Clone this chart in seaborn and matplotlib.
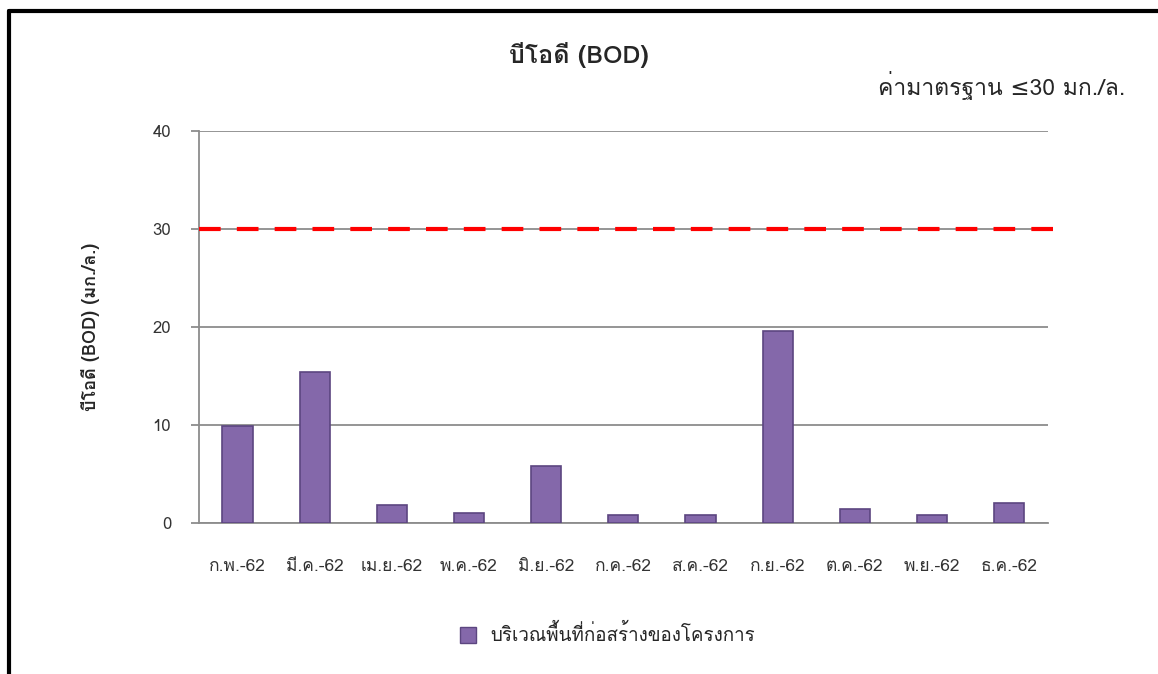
import matplotlib
matplotlib.use('Agg')
import matplotlib.pyplot as plt
from matplotlib import font_manager
from matplotlib.ft2font import FT2Font
from matplotlib.lines import Line2D
import seaborn as sns
import pandas as pd

# data
months = ['ก.พ.-62', 'มี.ค.-62', 'เม.ย.-62', 'พ.ค.-62', 'มิ.ย.-62', 'ก.ค.-62',
          'ส.ค.-62', 'ก.ย.-62', 'ต.ค.-62', 'พ.ย.-62', 'ธ.ค.-62']
bod = [9.9, 15.4, 1.8, 1.0, 5.8, 0.8, 0.8, 19.6, 1.4, 0.8, 2.0]
standard = 30
yticks = [0, 10, 20, 30, 40]
series_name = 'บริเวณพื้นที่ก่อสร้างของโครงการ'
title = 'บีโอดี (BOD)'
ylabel = 'บีโอดี (BOD) (มก./ล.)'
std_text = 'ค่ามาตรฐาน ≤30 มก./ล.'


def find_thai_font():
    """
    Look for an installed font which has Thai glyphs
    """
    for f in font_manager.fontManager.ttflist:
        try:
            cmap = FT2Font(f.fname).get_charmap()
        except Exception:
            continue
        if 0x0E01 in cmap and 0x0E35 in cmap:
            return f.name
    return None


sns.set_theme(style='white')
thai = find_thai_font()
fams = [thai, 'DejaVu Sans'] if thai else ['DejaVu Sans']
plt.rcParams['font.family'] = fams

df = pd.DataFrame({'month': months, 'bod': bod})

fig = plt.figure(figsize=(11.58, 6.74), dpi=100)
ax = fig.add_axes([0.1718, 0.224, 0.733, 0.5816])

sns.barplot(data=df, x='month', y='bod', color='#8468aa', width=0.39,
            saturation=1, edgecolor='#5c4680', linewidth=1.2, ax=ax, zorder=3)

ax.set_ylim(0, 40)
ax.set_xlim(-0.5, len(months) - 0.5)
ax.set_yticks(yticks)
ax.yaxis.grid(True, color='#8c8c8c', linewidth=1.3, zorder=0)
ax.xaxis.grid(False)
for s in ['top', 'right']:
    ax.spines[s].set_visible(False)
ax.spines['left'].set_color('#8c8c8c')
ax.spines['bottom'].set_color('#8c8c8c')
ax.spines['left'].set_linewidth(1.3)
ax.spines['bottom'].set_linewidth(1.3)
ax.tick_params(axis='y', left=True, length=6, width=1.3, color='#8c8c8c',
               labelsize=12, labelcolor='#333333', pad=14)
ax.tick_params(axis='x', bottom=False, labelsize=12.5, labelcolor='#333333', pad=20)
ax.set_xlabel('')
ax.set_ylabel(ylabel, fontsize=13, fontweight='bold', labelpad=38)

# standard line at 30, running a little past the plot area
ax.axhline(standard, xmin=0, xmax=1.01, color='red', linewidth=3,
           dashes=(5.2, 3.88), clip_on=False, zorder=4)

fig.text(0.5, 0.918, title, ha='center', va='center', fontsize=18, fontweight='bold')
fig.text(0.972, 0.873, std_text, ha='right', va='center', fontsize=16.5)

handle = Line2D([], [], marker='s', linestyle='none', markersize=11,
                markerfacecolor='#8468aa', markeredgecolor='#5c4680')
fig.legend([handle], [series_name], loc='center', bbox_to_anchor=(0.52, 0.058),
           frameon=False, fontsize=13.5, handletextpad=0.2)

# black frame on top and left
fig.add_artist(Line2D([0.0078, 0.0078], [0, 0.984], color='black', linewidth=3,
                      transform=fig.transFigure))
fig.add_artist(Line2D([0.0078, 1], [0.984, 0.984], color='black', linewidth=3,
                      transform=fig.transFigure))

fig.savefig('out.png', dpi=100)
